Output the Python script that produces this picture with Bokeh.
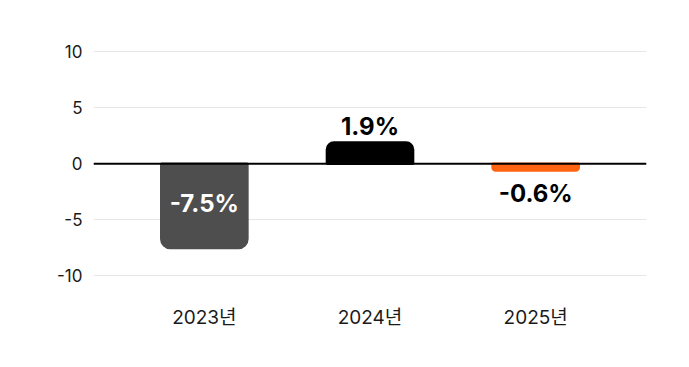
from bokeh.plotting import figure
from bokeh.models import ColumnDataSource, FactorRange, FixedTicker, Span, CDSView, IndexFilter
from bokeh.embed import file_html
from bokeh.resources import INLINE
from bokeh.core.properties import value

# ---- data ----
years = ["2023년", "2024년", "2025년"]
growth = [-7.5, 1.9, -0.6]
labels = ["-7.5%", "1.9%", "-0.6%"]
y_ticks = [-10, -5, 0, 5, 10]
y_tick_labels = {-10: "-10", -5: "-5", 0: "0", 5: "5", 10: "10"}

# ---- styles ----
bar_colors = ["#4e4e4e", "#000000", "#ff6411"]
radii = [9, 7, 3]
FONT = "Inter, 'Noto Sans CJK KR', sans-serif"

p = figure(
    x_range=FactorRange(factors=years, range_padding=0.169, range_padding_units="absolute"),
    y_range=(-11.56, 11.97),
    width=681, height=359,
    output_backend="svg", toolbar_location=None,
    min_border_left=93, min_border_right=35, min_border_top=29, min_border_bottom=66,
)
p.outline_line_color = None
p.background_fill_color = "white"
p.border_fill_color = "white"

src = ColumnDataSource(dict(year=years, growth=growth, base=[0] * len(years)))
for i, v in enumerate(growth):
    r = radii[i]
    br = (r, r, 0, 0) if v > 0 else (0, 0, r, r)
    p.vbar(x="year", top="growth", bottom="base", width=0.52, source=src,
           view=CDSView(filter=IndexFilter([i])),
           fill_color=bar_colors[i], line_color=bar_colors[i], line_width=2.5,
           border_radius=br)

# value labels
lab_y, lab_off, lab_col = [], [], []
for v in growth:
    if abs(v) > 5:
        lab_y.append(v / 2); lab_off.append(-2); lab_col.append("white")
    elif v > 0:
        lab_y.append(v); lab_off.append(-16); lab_col.append("black")
    else:
        lab_y.append(v); lab_off.append(23); lab_col.append("black")
lsrc = ColumnDataSource(dict(year=years, y=lab_y, off=lab_off, col=lab_col, text=labels))
p.text(x="year", y="y", text="text", y_offset="off", text_color="col", source=lsrc,
       text_align="center", text_baseline="middle", text_font=value(FONT),
       text_font_size="24px", text_font_style="bold")

p.add_layout(Span(location=0, dimension="width", line_color="black", line_width=2))

# grid
p.xgrid.grid_line_color = None
p.ygrid.ticker = FixedTicker(ticks=y_ticks)
p.ygrid.grid_line_color = "#e6e6e6"
p.ygrid.grid_line_width = 1

# axes
p.yaxis.ticker = FixedTicker(ticks=y_ticks)
p.yaxis.major_label_overrides = y_tick_labels
for ax in (p.xaxis[0], p.yaxis[0]):
    ax.axis_line_color = None
    ax.major_tick_line_color = None
    ax.minor_tick_line_color = None
    ax.major_tick_out = 0
    ax.major_tick_in = 0
    ax.major_label_text_font = FONT
    ax.major_label_text_color = "#1a1a1a"
p.yaxis.major_label_text_font_size = "17px"
p.yaxis.major_label_standoff = 11
p.xaxis.major_label_text_font_size = "19px"
p.xaxis.major_label_standoff = 12

open("out.html", "w").write(file_html(p, INLINE))
